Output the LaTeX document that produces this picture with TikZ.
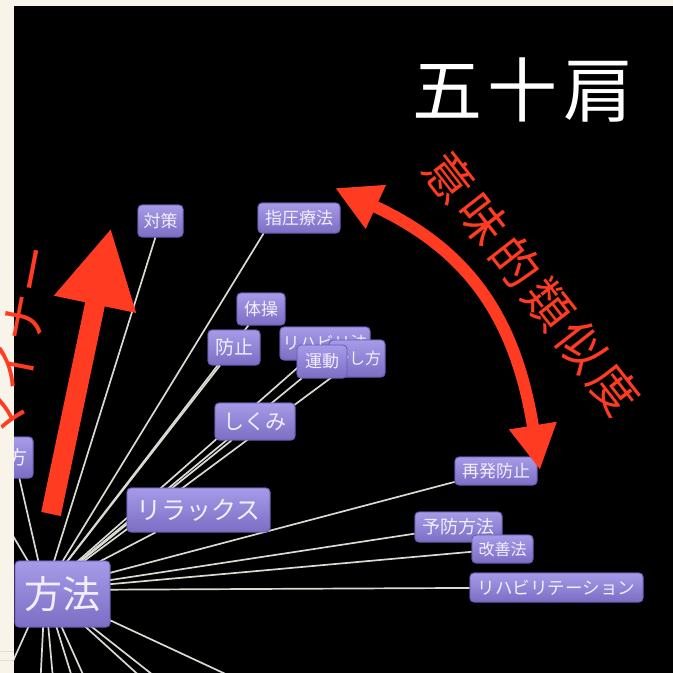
\documentclass[tikz,border=0pt]{standalone}
\usepackage{fontspec}
\setmainfont{Noto Sans CJK JP}
\newfontfamily\titlefont[LetterSpace=8]{Noto Sans CJK JP}
\newfontfamily\arcfont[LetterSpace=12]{Noto Sans CJK JP}
\newfontfamily\minorfont[LetterSpace=5]{Noto Sans CJK JP}
\usetikzlibrary{arrows.meta}
\definecolor{cream}{HTML}{F8F4E9}
\definecolor{creamline}{HTML}{E2DFD7}
\definecolor{ptop}{HTML}{A69BE8}
\definecolor{pbot}{HTML}{7B6EC4}
\definecolor{pedge}{HTML}{6659AE}
\definecolor{ntext}{HTML}{F2EEFF}
\definecolor{redA}{HTML}{FF3B22}
\definecolor{edgecol}{HTML}{DADAD2}
\tikzset{
  kw/.style={rounded corners=4pt, top color=ptop, bottom color=pbot, draw=pedge,
    line width=0.8pt, text=ntext, inner sep=0pt, align=center},
  fsz/.style={font=\fontsize{#1}{#1}\selectfont},
  box/.style 2 args={minimum width=#1, minimum height=#2},
  link/.style={draw=edgecol, line width=1.7pt},
  bigarrow/.style={draw=redA, line width=20pt, -{Triangle[length=78pt,width=78pt]}},
  arcarrow/.style={draw=redA, line width=12pt,
    {Triangle[length=45pt,width=45pt]}-{Triangle[length=45pt,width=45pt]}},
}
\begin{document}
\begin{tikzpicture}[x=1pt,y=-1pt]
\useasboundingbox (0,0) rectangle (673,673);
\fill[cream] (0,0) rectangle (673,673);
\draw[creamline, line width=0.8pt] (0,651) -- (14,651);
\draw[creamline, line width=0.8pt] (0,660) -- (14,660);
\fill[black] (14,6) rectangle (673,673);

\begin{scope}
\clip (14,6) rectangle (673,673);
\coordinate (hub) at (45,590);
% off-screen ends
\coordinate (o1) at (-20,480);
\coordinate (o2) at (0,690);
\coordinate (o3) at (40,690);
\coordinate (o4) at (54,690);
\coordinate (o5) at (76,690);
\coordinate (o6) at (90,690);
\coordinate (o7) at (155,690);
\coordinate (o8) at (172,690);
\coordinate (o9) at (260,690);

% nodes positions (drawn later) need to exist first: define them
\path
 node[kw, fsz=38, box={95pt}{66pt}] (hoho) at (62.5,594) {}
 node[kw, fsz=25, box={143pt}{44pt}] (relax) at (198.5,510) {}
 node[kw, fsz=21, box={80pt}{37pt}] (shikumi) at (255,421.5) {}
 node[kw, fsz=17, box={48pt}{32pt}] (taiso) at (261,309) {}
 node[kw, fsz=19, box={52pt}{35pt}] (boshi) at (234,347.5) {}
 node[kw, fsz=17, box={45pt}{32pt}] (taisaku) at (160.5,221) {}
 node[kw, fsz=17, box={82pt}{30pt}] (shiatsu) at (299,218) {}
 node[kw, fsz=17, box={82pt}{28pt}] (saihatsu) at (496,471) {}
 node[kw, fsz=18, box={87pt}{30pt}] (yobo) at (458.5,527) {}
 node[kw, fsz=16, box={61pt}{28pt}] (kaizen) at (502.5,549) {}
 node[kw, fsz=17, box={173pt}{29pt}] (rehab) at (556.5,587.5) {}
 node[kw, fsz=16, box={90pt}{33pt}] (rihabiri) at (325,343.5) {}
 node[kw, fsz=16, box={56pt}{37pt}] (naoshi) at (357,358.5) {}
 node[kw, fsz=17, box={50pt}{33pt}] (undo) at (322,361.5) {}
 node[kw, fsz=19, box={67pt}{41pt}] (yari) at (-0.5,457.5) {};

% connectors
\foreach \t in {taisaku, boshi, taiso, rihabiri, undo, naoshi, shikumi, relax,
                saihatsu, yobo, kaizen, rehab, o1, o2, o3, o4, o5, o6, o7, o8, o9}
  \draw[link] (hub) -- (\t);
\draw[link] (hub) -- ([xshift=6pt]shiatsu.south west);
\draw[link] (hub) -- ([xshift=-14pt]yari.south east);

% nodes on top
\node[kw, fsz=17, box={90pt}{33pt}] at (rihabiri) {リハビリ法};
\node[kw, fsz=16, box={56pt}{37pt}] at (naoshi) {治し方};
\node[kw, fsz=17, box={50pt}{33pt}] at (undo) {運動};
\node[kw, fsz=17, box={48pt}{32pt}] at (taiso) {体操};
\node[kw, fsz=19, box={52pt}{35pt}] at (boshi) {防止};
\node[kw, fsz=17, box={45pt}{32pt}] at (taisaku) {対策};
\node[kw, fsz=17, box={82pt}{30pt}] at (shiatsu) {指圧療法};
\node[kw, fsz=21, box={80pt}{37pt}] at (shikumi) {しくみ};
\node[kw, fsz=25, box={143pt}{44pt}] at (relax) {リラックス};
\node[kw, fsz=17, box={82pt}{28pt}] at (saihatsu) {再発防止};
\node[kw, fsz=18, box={87pt}{30pt}] at (yobo) {予防方法};
\node[kw, fsz=16, box={61pt}{28pt}] at (kaizen) {改善法};
\node[kw, fsz=17.5, box={173pt}{29pt}] at (rehab) {リハビリテーション};
\node[kw, fsz=19, box={67pt}{41pt}] at (yari) {やり方};
\node[kw, fsz=38, box={95pt}{66pt}] at (hoho) {方法};
\end{scope}

% title
\node[text=white, font=\titlefont\fontsize{70}{70}\selectfont] (title) at (523,90) {五十肩};

% red arrows
\coordinate (a1s) at (51,514);
\coordinate (a1e) at (111,228);
\draw[bigarrow] (a1s) -- (a1e);
\coordinate (arcA) at (335,188);
\coordinate (arcB) at (540,470);
\draw[arcarrow] (arcA) .. controls (471,251) and (516,321) .. (arcB);

% red labels
\node[rotate=-52, text=redA, font=\arcfont\fontsize{48}{48}\selectfont] (simtext) at (532,283) {意味的類似度};
\node[rotate=79, text=redA, font=\minorfont\fontsize{48}{48}\selectfont] (minor) at (19.5,343) {マイナー};
\end{tikzpicture}
\end{document}
